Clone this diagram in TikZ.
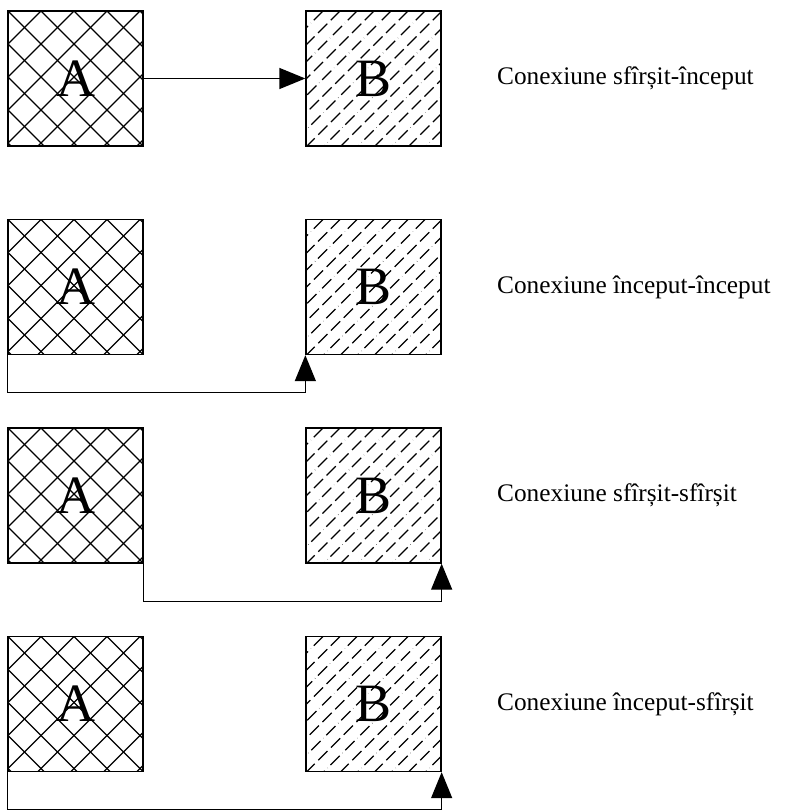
\documentclass[tikz,border=0pt]{standalone}
\usepackage{fontspec}
\setmainfont{Liberation Serif}
\usetikzlibrary{arrows.meta,calc}

\tikzset{
  hatchline/.style={line width=1.1pt, black},
  % cross-hatched task box
  taskA/.style={draw, line width=1.3pt, minimum width=135pt, minimum height=135pt,
    inner sep=0pt, font=\fontsize{54}{54}\selectfont,
    path picture={
      \coordinate (nw) at (path picture bounding box.north west);
      \foreach \k in {-4,...,8}{
        \draw[hatchline] ($(nw)+(\k*33,0)$) -- ++(145,145);
        \draw[hatchline] ($(nw)+(\k*33,0)$) -- ++(-145,145);
      }
    }},
  % dashed diagonal task box
  taskB/.style={draw, line width=1.3pt, minimum width=135pt, minimum height=135pt,
    inner sep=0pt, font=\fontsize{54}{54}\selectfont,
    path picture={
      \coordinate (nw) at (path picture bounding box.north west);
      \foreach \k in {0,2,...,16}{
        \draw[hatchline, dash pattern=on 13pt off 5pt] ($(nw)+(\k*17,0)$) -- ++(-145,145);
      }
      \foreach \k in {1,3,...,17}{
        \draw[hatchline, dash pattern=on 13pt off 4pt on 0.1pt off 4pt] ($(nw)+(\k*17,0)$) -- ++(-145,145);
      }
    }},
  caption/.style={anchor=west, inner sep=0pt, font=\fontsize{25.3}{30}\selectfont},
  conn/.style={line width=1.3pt, -{Triangle[length=26pt,width=21pt]}},
}

\begin{document}
\begin{tikzpicture}[x=1pt,y=-1pt]
  \useasboundingbox (0,0) rectangle (803,810);

  % row 1: finish-to-start
  \node[taskA] (A1) at (75.5,78.5) {A};
  \node[taskB] (B1) at (373.5,78.5) {B};
  \node[caption] (L1) at (497,78.5) {Conexiune sfîrșit-început};
  \draw[conn] (A1.east) -- (B1.west);

  % row 2: start-to-start
  \node[taskA] (A2) at (75.5,287) {A};
  \node[taskB] (B2) at (373.5,287) {B};
  \node[caption] (L2) at (497,287) {Conexiune început-început};
  \draw[conn] (A2.south west) -- ++(0,37.5) -| (B2.south west);

  % row 3: finish-to-finish
  \node[taskA] (A3) at (75.5,495.5) {A};
  \node[taskB] (B3) at (373.5,495.5) {B};
  \node[caption] (L3) at (497,495.5) {Conexiune sfîrșit-sfîrșit};
  \draw[conn] (A3.south east) -- ++(0,38) -| (B3.south east);

  % row 4: start-to-finish
  \node[taskA] (A4) at (75.5,704) {A};
  \node[taskB] (B4) at (373.5,704) {B};
  \node[caption] (L4) at (497,704) {Conexiune început-sfîrșit};
  \draw[conn] (A4.south west) -- ++(0,37.5) -| (B4.south east);
\end{tikzpicture}
\end{document}
